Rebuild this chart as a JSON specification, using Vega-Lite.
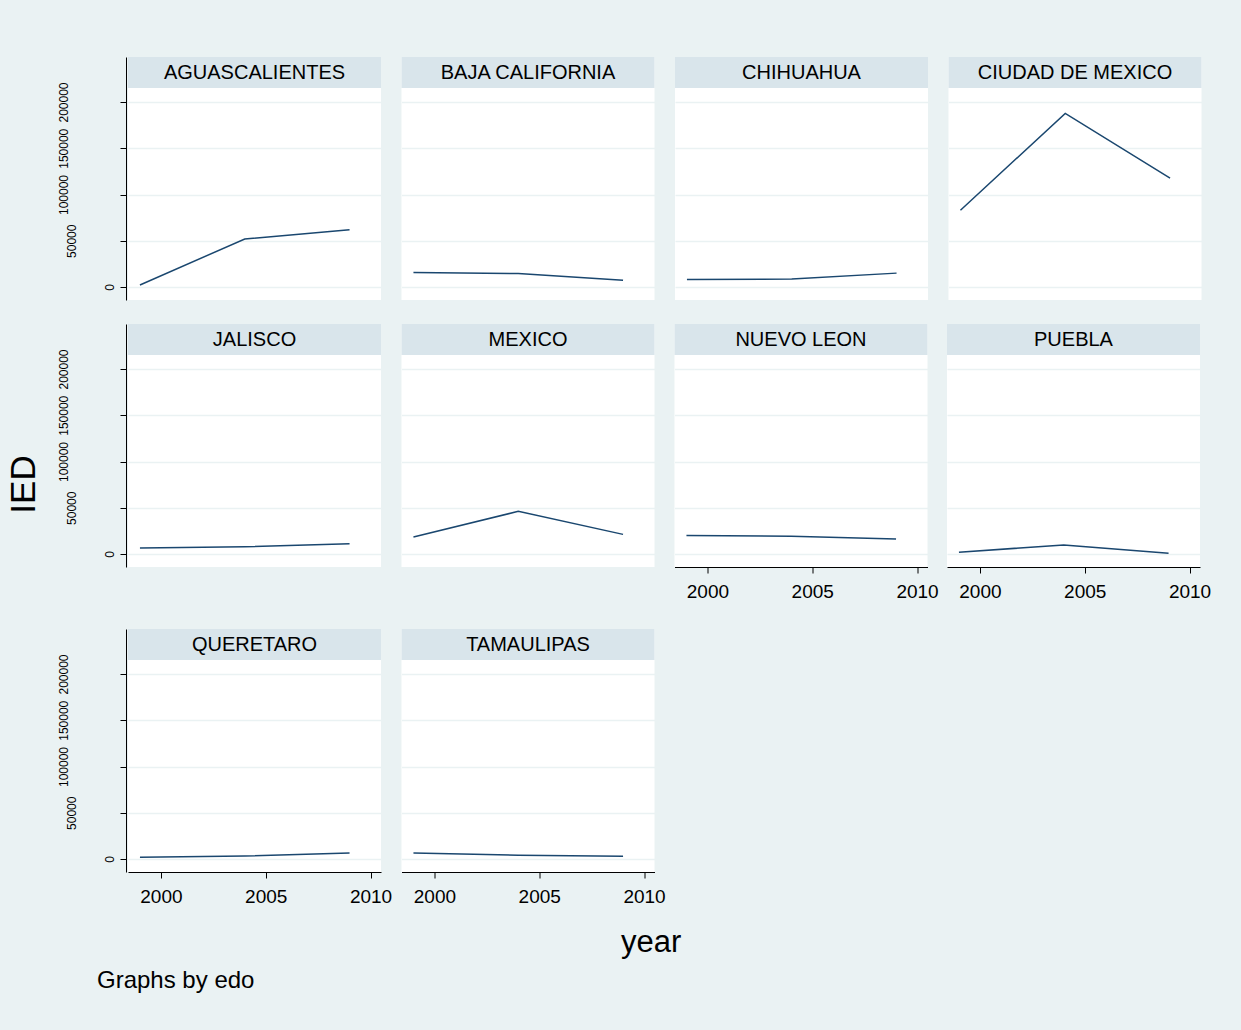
{
  "$schema": "https://vega.github.io/schema/vega-lite/v6.json",
  "background": "#eaf2f3",
  "padding": {"left": 5, "top": 57, "right": 30, "bottom": 37},
  "config": {
    "font": "Liberation Sans",
    "view": {"fill": "white", "stroke": null},
    "title": {"fontWeight": "normal", "color": "black", "font": "Liberation Sans"},
    "header": {"labelExpr": "''", "labelFontSize": 0, "labelPadding": 0, "title": null}
  },
  "title": {"text": "Graphs by edo", "orient": "bottom", "anchor": "start", "fontSize": 24, "dx": 91, "offset": 11},
  "data": {
    "values": [
      {"edo": "AGUASCALIENTES", "year": 1999, "IED": 2200},
      {"edo": "AGUASCALIENTES", "year": 2004, "IED": 51900},
      {"edo": "AGUASCALIENTES", "year": 2009, "IED": 62000},
      {"edo": "BAJA CALIFORNIA", "year": 1999, "IED": 15800},
      {"edo": "BAJA CALIFORNIA", "year": 2004, "IED": 14600},
      {"edo": "BAJA CALIFORNIA", "year": 2009, "IED": 7400},
      {"edo": "CHIHUAHUA", "year": 1999, "IED": 8200},
      {"edo": "CHIHUAHUA", "year": 2004, "IED": 8600},
      {"edo": "CHIHUAHUA", "year": 2009, "IED": 15000},
      {"edo": "CIUDAD DE MEXICO", "year": 1999, "IED": 82900},
      {"edo": "CIUDAD DE MEXICO", "year": 2004, "IED": 187700},
      {"edo": "CIUDAD DE MEXICO", "year": 2009, "IED": 117800},
      {"edo": "JALISCO", "year": 1999, "IED": 6500},
      {"edo": "JALISCO", "year": 2004, "IED": 7800},
      {"edo": "JALISCO", "year": 2009, "IED": 11200},
      {"edo": "MEXICO", "year": 1999, "IED": 18400},
      {"edo": "MEXICO", "year": 2004, "IED": 46100},
      {"edo": "MEXICO", "year": 2009, "IED": 21200},
      {"edo": "NUEVO LEON", "year": 1999, "IED": 20100},
      {"edo": "NUEVO LEON", "year": 2004, "IED": 19200},
      {"edo": "NUEVO LEON", "year": 2009, "IED": 16200},
      {"edo": "PUEBLA", "year": 1999, "IED": 1900},
      {"edo": "PUEBLA", "year": 2004, "IED": 9800},
      {"edo": "PUEBLA", "year": 2009, "IED": 800},
      {"edo": "QUERETARO", "year": 1999, "IED": 1800},
      {"edo": "QUERETARO", "year": 2004, "IED": 3200},
      {"edo": "QUERETARO", "year": 2009, "IED": 6500},
      {"edo": "TAMAULIPAS", "year": 1999, "IED": 6500},
      {"edo": "TAMAULIPAS", "year": 2004, "IED": 4000},
      {"edo": "TAMAULIPAS", "year": 2009, "IED": 2900}
    ]
  },
  "spacing": 24,
  "vconcat": [
    {
      "transform": [{"filter": {"field": "edo", "oneOf": ["AGUASCALIENTES", "BAJA CALIFORNIA", "CHIHUAHUA", "CIUDAD DE MEXICO"]}}],
      "facet": {"field": "edo", "type": "nominal", "title": null},
      "columns": 4,
      "spacing": {"column": 19.5, "row": 24},
      "spec": {
        "width": 253, "height": 243,
        "layer": [
          {"transform": [{"filter": "datum.year == 2004"}], "mark": {"type": "rect", "color": "#d9e5eb"},
           "encoding": {"y": {"datum": 215135, "type": "quantitative"}, "y2": {"datum": 248649}}},
          {"transform": [{"filter": "datum.year == 2004"}], "mark": {"type": "text", "fontSize": 20, "color": "black", "font": "Liberation Sans"},
           "encoding": {"y": {"datum": 231892, "type": "quantitative"}, "text": {"field": "edo", "type": "nominal"}}},
          {"mark": {"type": "line", "color": "#1a476f", "strokeWidth": 1.5},
           "encoding": {
             "x": {"field": "year", "type": "quantitative", "scale": {"domain": [1998.43, 2010.5], "nice": false, "zero": false}, "axis": null},
             "y": {"field": "IED", "type": "quantitative", "scale": {"domain": [-14054, 248649], "nice": false, "zero": false},
               "axis": {"values": [0, 50000, 100000, 150000, 200000], "format": "d", "offset": 1,
                 "title": "IED", "titleOpacity": 0, "titleFontSize": 35, "titleFontWeight": "normal", "titleColor": "black", "titlePadding": 16,
                 "labelAngle": 270, "labelAlign": "center", "labelBaseline": "alphabetic", "labelFontSize": 12, "labelColor": "black",
                 "labelPadding": {"condition": [{"test": "datum.value == 0", "value": 7}, {"test": "datum.value == 50000", "value": 45}], "value": 53},
                 "labelOverlap": false, "labelFlush": false, "tickSize": 6, "tickColor": "black", "domainColor": "black",
                 "grid": true, "gridColor": "#eaf2f3", "gridWidth": 1.5}}
           }}
        ]
      }
    },
    {
      "spacing": 19.5,
      "hconcat": [
        {
          "transform": [{"filter": {"field": "edo", "oneOf": ["JALISCO", "MEXICO"]}}],
          "facet": {"field": "edo", "type": "nominal", "title": null},
          "columns": 2,
          "spacing": {"column": 19.5, "row": 24},
          "spec": {
            "width": 253, "height": 243,
            "layer": [
              {"transform": [{"filter": "datum.year == 2004"}], "mark": {"type": "rect", "color": "#d9e5eb"},
               "encoding": {"y": {"datum": 215135, "type": "quantitative"}, "y2": {"datum": 248649}}},
              {"transform": [{"filter": "datum.year == 2004"}], "mark": {"type": "text", "fontSize": 20, "color": "black", "font": "Liberation Sans"},
               "encoding": {"y": {"datum": 231892, "type": "quantitative"}, "text": {"field": "edo", "type": "nominal"}}},
              {"mark": {"type": "line", "color": "#1a476f", "strokeWidth": 1.5},
               "encoding": {
                 "x": {"field": "year", "type": "quantitative", "scale": {"domain": [1998.43, 2010.5], "nice": false, "zero": false}, "axis": null},
                 "y": {"field": "IED", "type": "quantitative", "scale": {"domain": [-14054, 248649], "nice": false, "zero": false},
                   "axis": {"values": [0, 50000, 100000, 150000, 200000], "format": "d", "offset": 1,
                     "title": "IED", "titleY": 160, "titleFontSize": 35, "titleFontWeight": "normal", "titleColor": "black", "titlePadding": 16,
                     "labelAngle": 270, "labelAlign": "center", "labelBaseline": "alphabetic", "labelFontSize": 12, "labelColor": "black",
                     "labelPadding": {"condition": [{"test": "datum.value == 0", "value": 7}, {"test": "datum.value == 50000", "value": 45}], "value": 53},
                     "labelOverlap": false, "labelFlush": false, "tickSize": 6, "tickColor": "black", "domainColor": "black",
                     "grid": true, "gridColor": "#eaf2f3", "gridWidth": 1.5}}
               }}
            ]
          }
        },
        {
          "transform": [{"filter": {"field": "edo", "oneOf": ["NUEVO LEON", "PUEBLA"]}}],
          "facet": {"field": "edo", "type": "nominal", "title": null},
          "columns": 2,
          "spacing": {"column": 19.5, "row": 24},
          "spec": {
            "width": 253, "height": 243,
            "layer": [
              {"transform": [{"filter": "datum.year == 2004"}], "mark": {"type": "rect", "color": "#d9e5eb"},
               "encoding": {"y": {"datum": 215135, "type": "quantitative"}, "y2": {"datum": 248649}}},
              {"transform": [{"filter": "datum.year == 2004"}], "mark": {"type": "text", "fontSize": 20, "color": "black", "font": "Liberation Sans"},
               "encoding": {"y": {"datum": 231892, "type": "quantitative"}, "text": {"field": "edo", "type": "nominal"}}},
              {"mark": {"type": "line", "color": "#1a476f", "strokeWidth": 1.5},
               "encoding": {
                 "x": {"field": "year", "type": "quantitative", "scale": {"domain": [1998.43, 2010.5], "nice": false, "zero": false},
                   "axis": {"values": [2000, 2005, 2010], "grid": false, "title": null, "minExtent": 38, "labelFontSize": 19, "labelColor": "black", "labelPadding": 9, "tickSize": 6, "tickColor": "black", "domainColor": "black", "format": "d", "labelFlush": false, "labelOverlap": false}},
                 "y": {"field": "IED", "type": "quantitative", "scale": {"domain": [-14054, 248649], "nice": false, "zero": false},
                   "axis": {"values": [0, 50000, 100000, 150000, 200000], "labels": false, "ticks": false, "domain": false, "title": null,
                     "grid": true, "gridColor": "#eaf2f3", "gridWidth": 1.5}}
               }}
            ]
          }
        }
      ]
    },
    {
      "transform": [{"filter": {"field": "edo", "oneOf": ["QUERETARO", "TAMAULIPAS"]}}],
      "title": {"text": "year", "orient": "bottom", "anchor": "end", "align": "center", "frame": "bounds", "fontSize": 31, "dx": -14, "offset": 22},
      "facet": {"field": "edo", "type": "nominal", "title": null},
      "columns": 2,
      "spacing": {"column": 19.5, "row": 24},
      "spec": {
        "width": 253, "height": 243,
        "layer": [
          {"transform": [{"filter": "datum.year == 2004"}], "mark": {"type": "rect", "color": "#d9e5eb"},
           "encoding": {"y": {"datum": 215135, "type": "quantitative"}, "y2": {"datum": 248649}}},
          {"transform": [{"filter": "datum.year == 2004"}], "mark": {"type": "text", "fontSize": 20, "color": "black", "font": "Liberation Sans"},
           "encoding": {"y": {"datum": 231892, "type": "quantitative"}, "text": {"field": "edo", "type": "nominal"}}},
          {"mark": {"type": "line", "color": "#1a476f", "strokeWidth": 1.5},
           "encoding": {
             "x": {"field": "year", "type": "quantitative", "scale": {"domain": [1998.43, 2010.5], "nice": false, "zero": false},
               "axis": {"values": [2000, 2005, 2010], "grid": false, "title": null, "labelFontSize": 19, "labelColor": "black", "labelPadding": 9, "tickSize": 6, "tickColor": "black", "domainColor": "black", "format": "d", "labelFlush": false, "labelOverlap": false}},
             "y": {"field": "IED", "type": "quantitative", "scale": {"domain": [-14054, 248649], "nice": false, "zero": false},
               "axis": {"values": [0, 50000, 100000, 150000, 200000], "format": "d", "offset": 1,
                 "title": "IED", "titleOpacity": 0, "titleFontSize": 35, "titleFontWeight": "normal", "titleColor": "black", "titlePadding": 16,
                 "labelAngle": 270, "labelAlign": "center", "labelBaseline": "alphabetic", "labelFontSize": 12, "labelColor": "black",
                 "labelPadding": {"condition": [{"test": "datum.value == 0", "value": 7}, {"test": "datum.value == 50000", "value": 45}], "value": 53},
                 "labelOverlap": false, "labelFlush": false, "tickSize": 6, "tickColor": "black", "domainColor": "black",
                 "grid": true, "gridColor": "#eaf2f3", "gridWidth": 1.5}}
           }}
        ]
      }
    }
  ]
}
